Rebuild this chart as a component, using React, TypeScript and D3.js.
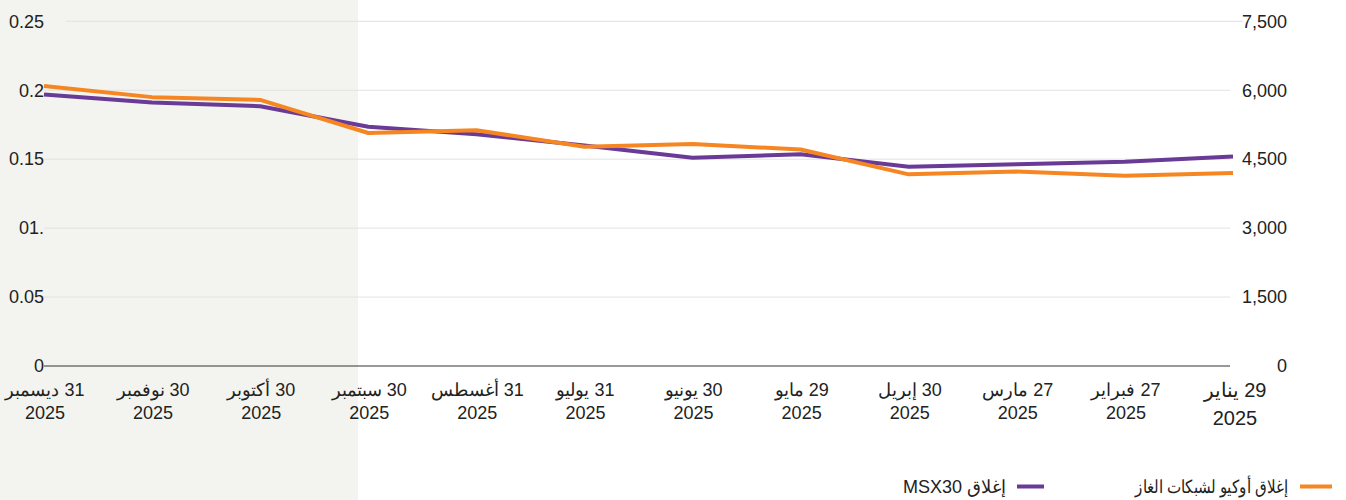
import React from "react";
import * as d3 from "d3";

const dates = [
  ["31 ديسمبر", "2025"],
  ["30 نوفمبر", "2025"],
  ["30 أكتوبر", "2025"],
  ["30 سبتمبر", "2025"],
  ["31 أغسطس", "2025"],
  ["31 يوليو", "2025"],
  ["30 يونيو", "2025"],
  ["29 مايو", "2025"],
  ["30 إبريل", "2025"],
  ["27 مارس", "2025"],
  ["27 فبراير", "2025"],
  ["29 يناير", "2025"],
];

// Left axis (OQ Gas Networks close)
const gasClose = [0.203, 0.195, 0.193, 0.169, 0.171, 0.159, 0.161, 0.157, 0.139, 0.141, 0.138, 0.14];
// Right axis (MSX30 close)
const msxClose = [5906, 5735, 5652, 5205, 5043, 4797, 4530, 4605, 4333, 4391, 4442, 4559];

const leftTicks = [0, 0.05, 0.1, 0.15, 0.2, 0.25];
const leftTickLabels = ["0", "0.05", "01.", "0.15", "0.2", "0.25"];
const rightTicks = [0, 1500, 3000, 4500, 6000, 7500];

const legendGas = "إغلاق أوكيو لشبكات الغاز";
const legendMsx = "إغلاق MSX30";

const W = 1346;
const H = 500;
const left = 44;
const right = 1233;
const top = 21.3;
const bottom = 366;

const ORANGE = "#F68622";
const PURPLE = "#6A3A97";
const FONT = "'Liberation Sans', Arial, sans-serif";

export default function App() {
  const x = d3.scalePoint<number>().domain(dates.map((_, i) => i)).range([left, right]);
  const yL = d3.scaleLinear().domain([0, 0.25]).range([bottom, top]);
  const yR = d3.scaleLinear().domain([0, 7500]).range([bottom, top]);

  const gasLine = d3
    .line<number>()
    .x((_, i) => x(i) as number)
    .y((d) => yL(d));
  const msxLine = d3
    .line<number>()
    .x((_, i) => x(i) as number)
    .y((d) => yR(d));

  const rtl = { direction: "rtl" as const, unicodeBidi: "embed" as const };

  return (
    <svg
      width={W}
      height={H}
      style={{ position: "absolute", left: 0, top: 0, fontFamily: FONT }}
    >
      <rect x={0} y={0} width={358} height={H} fill="#f3f4ef" />
      {leftTicks.map((t, i) =>
        t === 0 ? null : (
          <line
            key={"g" + i}
            x1={i === leftTicks.length - 1 ? 66 : left}
            x2={i === leftTicks.length - 1 ? 1243 : 1230}
            y1={yL(t)}
            y2={yL(t)}
            stroke="#e2e2e2"
            strokeWidth={1}
          />
        )
      )}
      <line x1={left} x2={1230} y1={bottom} y2={bottom} stroke="#333" strokeWidth={1} />
      {leftTicks.map((t, i) => (
        <text
          key={"l" + i}
          x={left}
          y={yL(t)}
          dy="0.35em"
          textAnchor="end"
          fontSize={18}
          fill="#222"
        >
          {leftTickLabels[i]}
        </text>
      ))}
      {rightTicks.map((t, i) => (
        <text
          key={"r" + i}
          x={1287}
          y={yR(t)}
          dy="0.35em"
          textAnchor="end"
          fontSize={18}
          fill="#222"
        >
          {d3.format(",")(t)}
        </text>
      ))}
      {dates.map((d, i) => {
        const big = i === dates.length - 1;
        const cx = (x(i) as number) + (big ? 2 : 1);
        return (
          <g key={"x" + i} fontSize={big ? 20 : 18} fill="#222">
            <text x={cx} y={big ? 397 : 396} textAnchor="middle" direction="rtl" style={rtl}>
              {d[0]}
            </text>
            <text x={cx} y={big ? 425 : 419} textAnchor="middle">
              {d[1]}
            </text>
          </g>
        );
      })}
      <path d={msxLine(msxClose) || ""} fill="none" stroke={PURPLE} strokeWidth={4} strokeLinejoin="round" />
      <path d={gasLine(gasClose) || ""} fill="none" stroke={ORANGE} strokeWidth={4} strokeLinejoin="round" />

      <line x1={1300} x2={1332} y1={486.5} y2={486.5} stroke={ORANGE} strokeWidth={4} />
      <text x={1211.5} y={493} fontSize={18} fill="#222" textAnchor="middle" direction="rtl" style={rtl} textLength={153} lengthAdjust="spacingAndGlyphs">
        {legendGas}
      </text>
      <line x1={1017} x2={1044} y1={486.5} y2={486.5} stroke={PURPLE} strokeWidth={4} />
      <text x={1006} y={493} fontSize={18} fill="#222" textAnchor="start" direction="rtl" style={rtl}>
        {legendMsx}
      </text>
    </svg>
  );
}
